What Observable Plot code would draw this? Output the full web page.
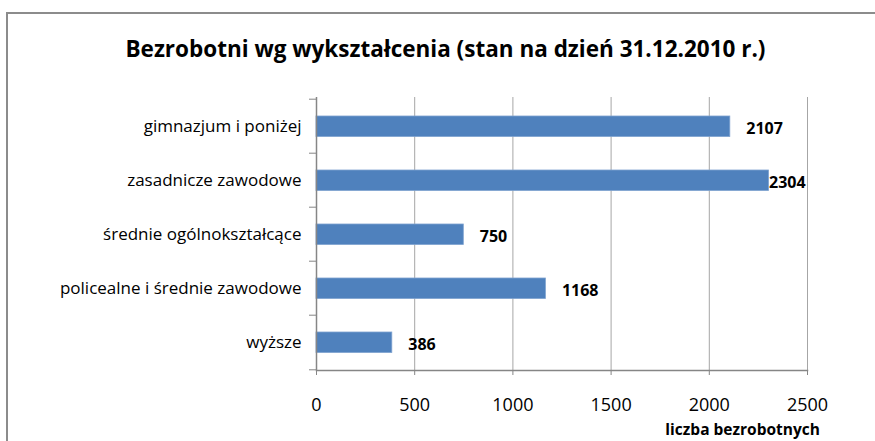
<!DOCTYPE html>
<html>
<head>
<meta charset="utf-8">
<script src="https://cdn.jsdelivr.net/npm/d3@7"></script>
<script src="https://cdn.jsdelivr.net/npm/@observablehq/plot@0.6"></script>
<style>
  html, body { margin: 0; padding: 0; background: #fff; }
  #wrap { position: relative; width: 875px; height: 441px; overflow: hidden; font-family: "Open Sans", Lato, sans-serif; }
  #border { position: absolute; left: 6px; top: 12px; width: 1000px; height: 1000px; border-top: 2px solid #8c8c8c; border-left: 2px solid #8c8c8c; }
  #title { position: absolute; left: 0; width: 891px; top: 34px; line-height: 30px; text-align: center; font-weight: bold; font-size: 22.5px; color: #000; white-space: nowrap; }
  #xlabel { position: absolute; right: 55px; top: 419px; line-height: 20px; font-weight: bold; font-size: 15.5px; color: #000; white-space: nowrap; }
  #chart { position: absolute; left: 0; top: 0; }
</style>
</head>
<body>
<div id="wrap">
  <div id="border"></div>
  <div id="chart"></div>
  <div id="title">Bezrobotni wg wykształcenia (stan na dzień 31.12.2010 r.)</div>
  <div id="xlabel">liczba bezrobotnych</div>
</div>
<script>
const categories = ["gimnazjum i poniżej", "zasadnicze zawodowe", "średnie ogólnokształcące", "policealne i średnie zawodowe", "wyższe"];
const values = [2107, 2304, 750, 1168, 386];
const xTicks = [0, 500, 1000, 1500, 2000, 2500];

const data = categories.map((c, i) => ({category: c, value: values[i]}));

const W = 875, H = 441, mL = 316, mR = 68, mT = 97, mB = 71;
const bw = (H - mT - mB) / categories.length;
const xMax = xTicks[xTicks.length - 1];
const pxPerUnit = (W - mL - mR) / xMax;
const nearEdge = d => (W - mR) - (mL + d.value * pxPerUnit) < 60;
const font = "'Open Sans', Lato, sans-serif";

const plot = Plot.plot({
  width: W, height: H,
  marginLeft: mL, marginRight: mR, marginTop: mT, marginBottom: mB,
  style: {fontFamily: font, color: "#000", background: "transparent"},
  x: {domain: [0, xMax]},
  y: {domain: categories, padding: 0},
  marks: [
    Plot.ruleX(xTicks.slice(1), {stroke: "#a6a6a6", strokeWidth: 1}),
    Plot.barX(data, {x: "value", y: "category", fill: "#4f81bd", stroke: "#7ea2cf", strokeWidth: 0.8, insetTop: 17, insetBottom: 16.5}),
    Plot.ruleX([0], {stroke: "#868686", strokeWidth: 1.5}),
    Plot.frame({anchor: "bottom", stroke: "#868686", strokeWidth: 1.5}),
    Plot.axisX({ticks: xTicks, tickSize: 5, tickPadding: 23, fontSize: 18, stroke: "#868686", label: null, tickFormat: d => String(d)}),
    Plot.axisY({tickSize: 0, tickPadding: 15, fontSize: 17, label: null}),
    Plot.axisY({tickSize: 7, dy: -bw / 2, stroke: "#868686", tickFormat: () => "", label: null}),
    Plot.axisY([categories[categories.length - 1]], {tickSize: 7, dy: bw / 2, stroke: "#868686", tickFormat: () => "", label: null}),
    Plot.text(data.filter(d => !nearEdge(d)), {x: "value", y: "category", text: d => String(d.value), dx: 16, dy: 2, textAnchor: "start", fontWeight: "bold", fontSize: 16, fill: "#000"}),
    Plot.text(data.filter(nearEdge), {x: "value", y: "category", text: d => String(d.value), dx: 0, dy: 2, textAnchor: "start", fontWeight: "bold", fontSize: 16, fill: "#000"})
  ]
});
document.getElementById("chart").appendChild(plot);
</script>
</body>
</html>
